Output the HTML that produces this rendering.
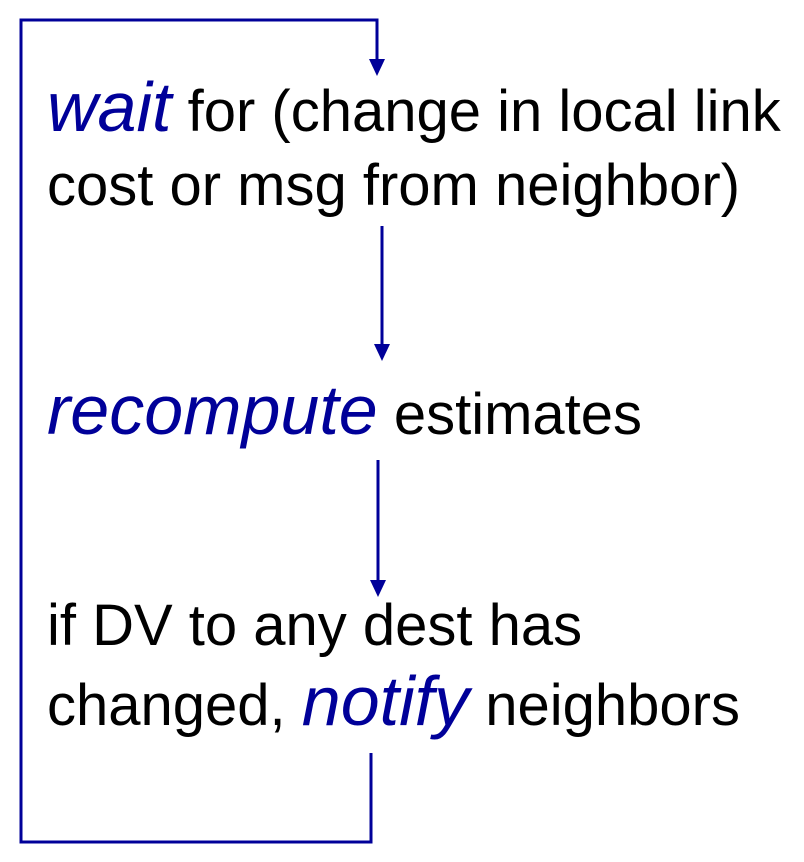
<!DOCTYPE html>
<html><head><style>
html,body{margin:0;padding:0;background:#fff;}
body{width:804px;height:862px;position:relative;overflow:hidden;font-family:"Liberation Sans",sans-serif;}
.t{position:absolute;left:47px;font-size:58px;color:#000;white-space:nowrap;line-height:1;}
.b{color:#000099;font-style:italic;font-size:70px;}
</style></head><body>
<svg width="804" height="862" style="position:absolute;left:0;top:0">
<g stroke="#000099" stroke-width="3" fill="none">
<polyline points="377,60 377,20 21,20 21,842 371,842 371,753"/>
<line x1="382" y1="226" x2="382" y2="346"/>
<line x1="378" y1="460" x2="378" y2="582"/>
</g>
<g fill="#000099">
<polygon points="369,59 385,59 377,76"/>
<polygon points="374,344 390,344 382,361"/>
<polygon points="370,580 386,580 378,597"/>
</g>
</svg>
<div class="t" style="top:72px"><span class="b">wait</span> for (change in local link</div>
<div class="t" style="top:157px">cost or msg from neighbor)</div>
<div class="t" style="top:375px"><span class="b">recompute</span> estimates</div>
<div class="t" style="top:597px">if DV to any dest has</div>
<div class="t" style="top:666px">changed, <span class="b">notify</span> neighbors</div>
</body></html>
